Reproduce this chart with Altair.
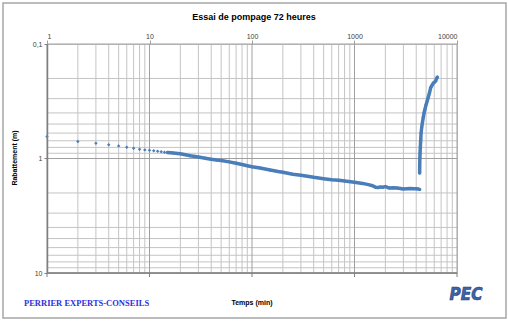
import altair as alt
import pandas as pd

# ---- data ----
pump_t = [1, 2, 3, 4, 5, 6, 7, 8, 9, 10, 11, 12, 13, 14, 15, 17, 20, 25, 30, 35, 40, 45, 50,
          60, 70, 80, 90, 100, 120, 150, 180, 200, 250, 300, 400, 500, 600, 700, 800, 1000,
          1200, 1400, 1500, 1600, 1700, 1800, 1900, 2000, 2100, 2200, 2400, 2600, 2800, 3000,
          3200, 3500, 3800, 4000, 4200, 4320]
pump_s = [0.644, 0.711, 0.736, 0.760, 0.776, 0.797, 0.813, 0.830, 0.841, 0.847, 0.855, 0.866,
          0.872, 0.880, 0.886, 0.897, 0.910, 0.945, 0.970, 0.995, 1.015, 1.03, 1.04,
          1.07, 1.10, 1.13, 1.155, 1.18, 1.21, 1.26, 1.30, 1.32, 1.37, 1.40, 1.46, 1.50, 1.53,
          1.55, 1.57, 1.61, 1.65, 1.70, 1.73, 1.78, 1.79, 1.77, 1.78, 1.76, 1.79, 1.81, 1.80,
          1.81, 1.83, 1.85, 1.84, 1.83, 1.84, 1.84, 1.85, 1.86]

rec_t = [4321, 4330, 4340, 4360, 4390, 4430, 4460, 4520, 4590, 4680, 4770, 4870, 4990, 5120,
         5250, 5400, 5540, 5700, 5870, 6050, 6200, 6320, 6430]
rec_s = [1.34, 1.10, 1.00, 0.90, 0.79, 0.68, 0.60, 0.54, 0.49, 0.44, 0.40, 0.37, 0.34, 0.315,
         0.29, 0.265, 0.24, 0.23, 0.22, 0.215, 0.21, 0.20, 0.195]

x_major = [1, 10, 100, 1000, 10000]
x_minor = [2, 3, 4, 5, 6, 7, 8, 9, 20, 30, 40, 50, 60, 70, 80, 90,
           200, 300, 400, 500, 600, 700, 800, 900, 2000, 3000, 4000, 5000, 6000, 7000, 8000, 9000]
y_major = [0.1, 1, 10]
y_minor = [0.2, 0.3, 0.4, 0.5, 0.6, 0.7, 0.8, 0.9, 2, 3, 4, 5, 6, 7, 8, 9]
y_tick_labels = ["0,1", "1", "10"]

title_text = "Essai de pompage 72 heures"
x_title = "Temps (min)"
y_title = "Rabattement (m)"
company = "PERRIER EXPERTS-CONSEILS"
logo = "PEC"

# ---- build tables ----
df = pd.DataFrame({
    "t": pump_t + rec_t,
    "s": pump_s + rec_s,
    "phase": ["pompage"] * len(pump_t) + ["remontée"] * len(rec_t),
})

W, H = 410, 229
BLUE = "#4A7EBB"
FONT = "Liberation Sans"

xs = alt.Scale(type="log", domain=[1, 10000])
ys = alt.Scale(type="log", domain=[0.1, 10], reverse=True)

label_expr = " : ".join(
    [f"datum.value == {v} ? '{l}'" for v, l in zip(y_major, y_tick_labels)] + ["''"]
)

one = alt.Data(values=[{}])

frame = alt.Chart(one).mark_rect(filled=False, stroke="#a6a6a6", strokeWidth=1.5).encode(
    x=alt.value(-44), x2=alt.value(459), y=alt.value(-41), y2=alt.value(274)
)

grid_x_minor = alt.Chart(pd.DataFrame({"t": x_minor})).mark_rule(
    color="#c4c4c4", strokeWidth=1).encode(x=alt.X("t:Q", scale=xs))
grid_x_major = alt.Chart(pd.DataFrame({"t": x_major})).mark_rule(
    color="#a0a0a0", strokeWidth=1).encode(x=alt.X("t:Q", scale=xs))
grid_y_minor = alt.Chart(pd.DataFrame({"s": y_minor})).mark_rule(
    color="#c4c4c4", strokeWidth=1).encode(y=alt.Y("s:Q", scale=ys))
grid_y_major = alt.Chart(pd.DataFrame({"s": y_major})).mark_rule(
    color="#a0a0a0", strokeWidth=1).encode(y=alt.Y("s:Q", scale=ys))

bottom_line = alt.Chart(one).mark_rule(color="#7f7f7f", strokeWidth=1.5).encode(
    y=alt.value(H))
bottom_ticks = alt.Chart(pd.DataFrame({"t": x_major})).mark_rule(
    color="#7f7f7f", strokeWidth=1).encode(
    x=alt.X("t:Q", scale=xs), y=alt.value(H), y2=alt.value(H + 4))

line = alt.Chart(df).transform_filter("datum.t >= 15").mark_line(
    color=BLUE, strokeWidth=3.5, strokeCap="round", strokeJoin="round").encode(
    x=alt.X("t:Q", scale=xs), y=alt.Y("s:Q", scale=ys), detail="phase:N", order="t:Q")

points = alt.Chart(df).mark_point(
    shape="diamond", filled=True, size=12, color=BLUE, opacity=1).encode(
    x=alt.X("t:Q", scale=xs,
            axis=alt.Axis(orient="top", values=x_major, format="d", title=None,
                          grid=False, domain=False, ticks=True, tickSize=4,
                          tickColor="#a0a0a0", labelFontSize=7, labelColor="#404040",
                          labelFont=FONT, labelPadding=1, zindex=1)),
    y=alt.Y("s:Q", scale=ys,
            axis=alt.Axis(orient="left", values=y_major, labelExpr=label_expr, title=None,
                          grid=False, domain=True, domainColor="#7f7f7f", domainWidth=1.5,
                          ticks=True, tickSize=3, tickColor="#7f7f7f",
                          labelFontSize=7, labelColor="#404040", labelFont=FONT,
                          labelPadding=2, zindex=1)),
)

def txt(text, x, y, **kw):
    return alt.Chart(one).mark_text(**kw).encode(
        x=alt.value(x), y=alt.value(y), text=alt.value(text))

title = txt(title_text, 207, -27, font=FONT, fontSize=9, fontWeight="bold",
            color="#000000", align="center", baseline="middle")
xt = txt(x_title, 205, 259, font=FONT, fontSize=7, fontWeight="bold",
         color="#000000", align="center", baseline="middle")
yt = txt(y_title, -32, 114, font=FONT, fontSize=7, fontWeight="bold",
         color="#000000", align="center", baseline="middle", angle=270)
comp = txt(company, -23, 259, font="Liberation Serif", fontSize=8.5, fontWeight="bold",
           color="#2e2ee0", align="left", baseline="middle")
pec = txt(logo, 419, 251, font="DejaVu Sans Condensed", fontSize=17, fontWeight="bold",
          fontStyle="italic", color="#3d64a8", stroke="#1f3f7a", strokeWidth=0.6,
          align="center", baseline="middle")

chart = alt.layer(
    frame, grid_x_minor, grid_y_minor, grid_x_major, grid_y_major,
    bottom_line, bottom_ticks, line, points, title, xt, yt, comp, pec
).properties(
    width=W, height=H, autosize="none",
    padding={"left": 47, "top": 44, "right": 51, "bottom": 48},
    background="white",
).configure_view(stroke="#c4c4c4", strokeWidth=1)

chart.save("out.html", embed_options={"renderer": "svg", "actions": False})
